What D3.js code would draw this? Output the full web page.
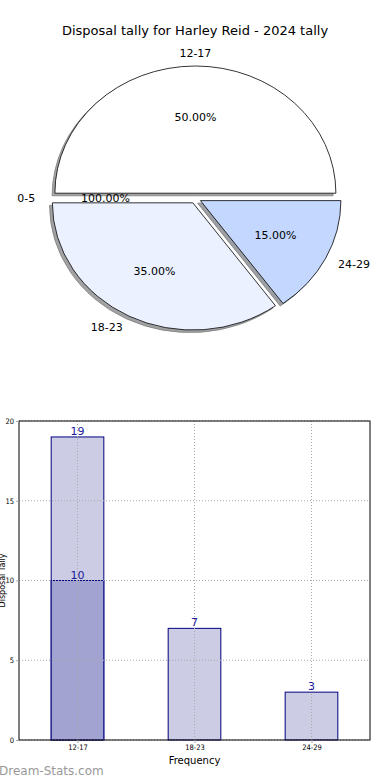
<!DOCTYPE html>
<html>
<head>
<meta charset="utf-8">
<title>Disposal tally</title>
<script src="https://cdn.jsdelivr.net/npm/d3@7"></script>
<style>
  body { margin: 0; background: #fff; }
  svg { display: block; font-family: "DejaVu Sans", sans-serif; }
</style>
</head>
<body>
<script>
// pie data (slice order as drawn, counter-clockwise from 3 o'clock)
var pieLabels = ["12-17", "0-5", "18-23", "24-29"];
var pieValues = [50, 0, 35, 15];
var pctLabels = ["50.00%", "100.00%", "35.00%", "15.00%"];
var pieColors = ["#ffffff", "#ffffff", "#ebf1fe", "#c4d8ff"];

// bar data
var barCats = ["12-17", "18-23", "24-29"];
var barTotals = [19, 7, 3];
var barInner = [10, null, null];
var yTicks = [0, 5, 10, 15, 20];

var w = 390, h = 780;
var svg = d3.select("body").append("svg").attr("width", w).attr("height", h);

svg.append("text")
    .attr("x", 195).attr("y", 35)
    .attr("text-anchor", "middle")
    .style("font-size", "13px")
    .text("Disposal tally for Harley Reid - 2024 tally");

// ---- pie ----
var cx = 195.4, cy = 198.3, rx = 140.5, ry = 127.2, explode = 0.04;

// d3 angles: 0 at 12 o'clock, clockwise. start at 3 o'clock and go anticlockwise
var pie = d3.pie().sort(null).startAngle(Math.PI / 2).endAngle(Math.PI / 2 - 2 * Math.PI);
var arcs = pie(pieValues);
var unitArc = d3.arc().innerRadius(0).outerRadius(1);

function midDir(d) {
    var a = (d.startAngle + d.endAngle) / 2;
    return [Math.sin(a), -Math.cos(a)];
}

var pieG = svg.append("g");
var drawn = arcs.filter(function(d) { return d.value > 0; });

// shadows first
pieG.selectAll("path.shadow")
    .data(drawn)
    .enter().append("path")
    .attr("class", "shadow")
    .attr("d", unitArc)
    .attr("transform", function(d) {
        var m = midDir(d);
        return "translate(" + (cx + m[0] * explode * rx - 0.02 * rx) + "," +
            (cy + m[1] * explode * ry + 0.02 * ry) + ") scale(" + rx + "," + ry + ")";
    })
    .attr("vector-effect", "non-scaling-stroke")
    .style("fill", function(d) {
        var c = d3.rgb(pieColors[d.index]);
        return d3.rgb(c.r * 0.3, c.g * 0.3, c.b * 0.3);
    })
    .style("stroke", "#000")
    .style("stroke-width", 0.8)
    .style("opacity", 0.5);

pieG.selectAll("path.slice")
    .data(drawn)
    .enter().append("path")
    .attr("class", "slice")
    .attr("d", unitArc)
    .attr("transform", function(d) {
        var m = midDir(d);
        return "translate(" + (cx + m[0] * explode * rx) + "," + (cy + m[1] * explode * ry) +
            ") scale(" + rx + "," + ry + ")";
    })
    .attr("vector-effect", "non-scaling-stroke")
    .style("fill", function(d) { return pieColors[d.index]; })
    .style("stroke", "#000")
    .style("stroke-width", 0.8);

// outer labels at 1.1 r
pieG.selectAll("text.lab")
    .data(arcs)
    .enter().append("text")
    .attr("class", "lab")
    .attr("x", function(d) { return cx + midDir(d)[0] * (explode + 1.1) * rx; })
    .attr("y", function(d) { return cy + midDir(d)[1] * (explode + 1.1) * ry; })
    .attr("dy", "0.35em")
    .attr("text-anchor", function(d) { return midDir(d)[0] < -0.001 ? "end" : (midDir(d)[0] > 0.001 ? "start" : "middle"); })
    .style("font-size", "11px")
    .text(function(d, i) { return pieLabels[i]; });

pieG.selectAll("text.pct")
    .data(arcs)
    .enter().append("text")
    .attr("class", "pct")
    .attr("x", function(d) { return cx + midDir(d)[0] * (explode + 0.6) * rx; })
    .attr("y", function(d) { return cy + midDir(d)[1] * (explode + 0.6) * ry; })
    .attr("dy", "0.35em")
    .attr("text-anchor", "middle")
    .style("font-size", "11px")
    .text(function(d, i) { return pctLabels[i]; });

// ---- bars ----
var plotL = 19, plotR = 370, plotT = 421, plotB = 740;
var x = d3.scaleLinear().domain([-0.5, barCats.length - 0.5]).range([plotL, plotR]);
var y = d3.scaleLinear().domain([0, 20]).range([plotB, plotT]);
var bw = 0.45;

var barG = svg.append("g");

barG.selectAll("rect.total")
    .data(barTotals)
    .enter().append("rect")
    .attr("x", function(d, i) { return x(i - bw / 2); })
    .attr("width", x(bw) - x(0))
    .attr("y", function(d) { return y(d); })
    .attr("height", function(d) { return y(0) - y(d); })
    .style("fill", "#ccccE4")
    .style("stroke", "#000080")
    .style("stroke-width", 1);

barG.selectAll("rect.inner")
    .data(barInner.map(function(v, i) { return {v: v, i: i}; }).filter(function(d) { return d.v != null; }))
    .enter().append("rect")
    .attr("x", function(d) { return x(d.i - bw / 2); })
    .attr("width", x(bw) - x(0))
    .attr("y", function(d) { return y(d.v); })
    .attr("height", function(d) { return y(0) - y(d.v); })
    .style("fill", "#a3a3d2")
    .style("stroke", "#000080")
    .style("stroke-width", 1);

// grid on top
var grid = barG.append("g").style("stroke", "#aaa").style("stroke-dasharray", "1,2").style("stroke-width", 1);
grid.selectAll("line.gy")
    .data(yTicks)
    .enter().append("line")
    .attr("x1", plotL).attr("x2", plotR)
    .attr("y1", function(d) { return y(d); })
    .attr("y2", function(d) { return y(d); });
grid.selectAll("line.gx")
    .data(barCats)
    .enter().append("line")
    .attr("x1", function(d, i) { return x(i); })
    .attr("x2", function(d, i) { return x(i); })
    .attr("y1", plotT).attr("y2", plotB);

// value labels
var vals = barTotals.map(function(v, i) { return {v: v, i: i}; })
    .concat(barInner.map(function(v, i) { return {v: v, i: i}; }).filter(function(d) { return d.v != null; }));
barG.selectAll("text.val")
    .data(vals)
    .enter().append("text")
    .attr("x", function(d) { return x(d.i); })
    .attr("y", function(d) { return y(d.v) - 2; })
    .attr("text-anchor", "middle")
    .style("font-size", "11px")
    .style("fill", "#1a1a99")
    .text(function(d) { return d.v; });

// frame
barG.append("rect")
    .attr("x", plotL).attr("y", plotT)
    .attr("width", plotR - plotL).attr("height", plotB - plotT)
    .style("fill", "none").style("stroke", "#000").style("stroke-width", 1);

var yAxis = d3.axisLeft(y).tickValues(yTicks).tickSize(3).tickPadding(2);
barG.append("g")
    .attr("transform", "translate(" + plotL + ",0)")
    .call(yAxis)
    .call(function(g) {
        g.select(".domain").remove();
        g.selectAll(".tick line").style("stroke", "#aaa");
        g.selectAll("text").style("font-size", "7.5px").style("font-family", "DejaVu Sans Condensed, DejaVu Sans");
    });

var xAxis = d3.axisBottom(x).tickValues(d3.range(barCats.length))
    .tickFormat(function(i) { return barCats[i]; }).tickSize(3).tickPadding(2);
barG.append("g")
    .attr("transform", "translate(0," + plotB + ")")
    .call(xAxis)
    .call(function(g) {
        g.select(".domain").remove();
        g.selectAll(".tick line").style("stroke", "#aaa");
        g.selectAll("text").style("font-size", "7.5px").style("font-family", "DejaVu Sans Condensed, DejaVu Sans");
    });

svg.append("text")
    .attr("x", x(1)).attr("y", 764)
    .attr("text-anchor", "middle")
    .style("font-size", "10px")
    .text("Frequency");

svg.append("text")
    .attr("transform", "translate(3," + y(10) + ") rotate(-90)")
    .attr("text-anchor", "middle")
    .attr("dy", "0.3em")
    .style("font-size", "8px")
    .text("Disposal Tally");

svg.append("text")
    .attr("x", -1).attr("y", 775)
    .style("font-size", "12px")
    .style("fill", "#999")
    .text("Dream-Stats.com");
</script>
</body>
</html>
